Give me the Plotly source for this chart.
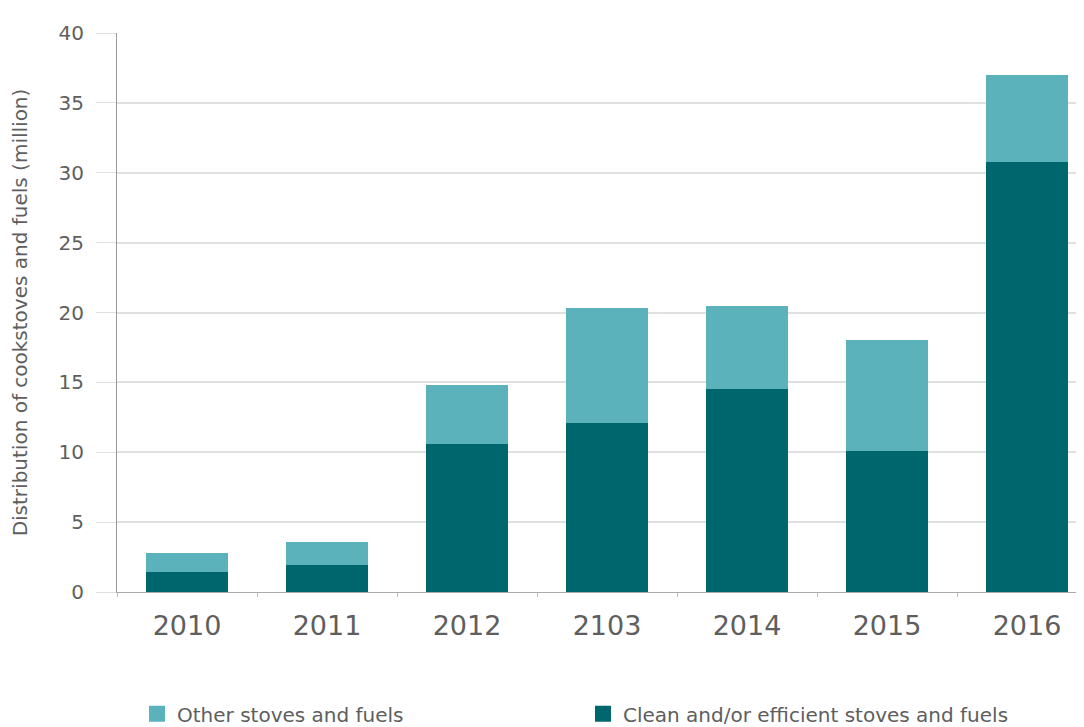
import plotly.graph_objects as go

years = ["2010", "2011", "2012", "2103", "2014", "2015", "2016"]
clean = [1.4, 1.9, 10.6, 12.1, 14.5, 10.1, 30.8]
other = [1.4, 1.7, 4.2, 8.2, 6.0, 7.9, 6.2]
names = ["Clean and/or efficient stoves and fuels", "Other stoves and fuels"]

DARK = "#00666e"
LIGHT = "#5bb2bb"
TXT = "#5e5e5e"
FONT = "DejaVu Sans"

fig = go.Figure()
fig.add_trace(go.Bar(x=years, y=clean, name=names[0], showlegend=False,
                     marker=dict(color=DARK, line=dict(width=0))))
fig.add_trace(go.Bar(x=years, y=other, name=names[1], showlegend=False,
                     marker=dict(color=LIGHT, line=dict(width=0))))
# legend entries with larger square swatches
fig.add_trace(go.Scatter(x=[None], y=[None], mode="markers", name=names[1], legendrank=1,
                         marker=dict(symbol="square", size=20, color=LIGHT)))
fig.add_trace(go.Scatter(x=[None], y=[None], mode="markers", name=names[0], legendrank=2,
                         marker=dict(symbol="square", size=20, color=DARK)))

fig.update_layout(
    width=1084, height=727,
    margin=dict(l=109, r=0, t=25, b=143),
    barmode="stack", bargap=0.414,
    plot_bgcolor="white", paper_bgcolor="white",
    font=dict(family=FONT, color=TXT),
    showlegend=True,
    legend=dict(orientation="h", x=0.0205, xanchor="left", y=-0.218, yanchor="middle",
                traceorder="normal",
                entrywidth=401, entrywidthmode="pixels",
                font=dict(size=20, color=TXT, family=FONT)),
)
fig.update_xaxes(range=[-0.5, 6.464], showline=True, linecolor="#aaaaaa", linewidth=1,
                 ticks="outside", tickson="boundaries", ticklen=4, tickcolor="#bbbbbb",
                 tickfont=dict(size=27, color=TXT), ticklabelstandoff=10,
                 showgrid=False, automargin=False)
fig.update_yaxes(range=[0, 40], dtick=5, showline=True, linecolor="#999999", linewidth=1,
                 showgrid=True, gridcolor="#e0e0e0", gridwidth=1.5,
                 ticks="outside", ticklen=20, tickcolor="#e0e0e0",
                 tickfont=dict(size=20, color=TXT), ticklabelstandoff=8,
                 zeroline=False, automargin=False,
                 title=dict(text="Distribution of cookstoves and fuels (million)",
                            font=dict(size=20, color=TXT), standoff=28))

fig.write_html("out.html")
